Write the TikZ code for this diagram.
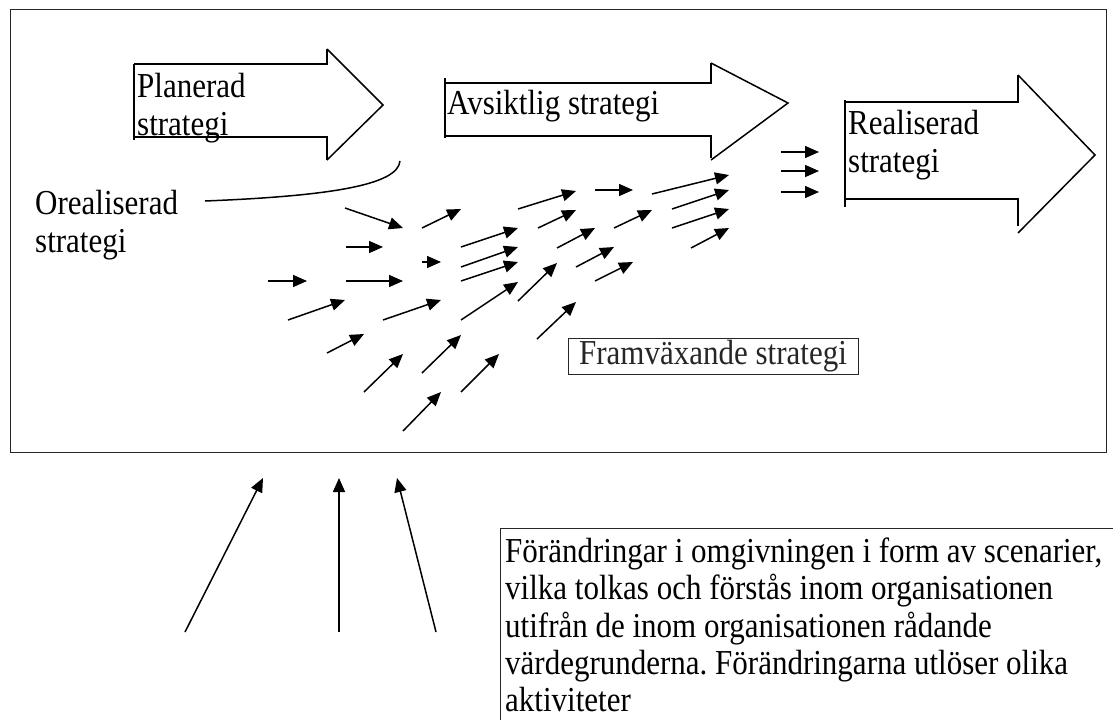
\documentclass[tikz,border=0pt]{standalone}
\usepackage{fontspec}
\setmainfont{Liberation Serif}
\usetikzlibrary{arrows.meta}
\newcommand\stretchtxt[1]{\scalebox{1}[1.13]{#1}}
\frenchspacing
\begin{document}
\begin{tikzpicture}[x=1pt,y=-1pt,
  txt/.style={font=\fontsize{31}{38.75}\selectfont, inner sep=0pt, anchor=base west},
  body/.style={line width=2.6pt},
  head/.style={line width=1.5pt},
  sarr/.style={line width=1.5pt,-{Triangle[length=14pt,width=12pt]}},
  barr/.style={line width=1.5pt,-{Triangle[length=14pt,width=12pt]}},
  frame/.style={line width=1pt, black!85}
]
\useasboundingbox (0,0) rectangle (1113,720);
% outer frame
\draw[frame] (10,9) rectangle (1106,452);

% Planerad strategi arrow
\draw[body] (134,64) -- (134,140);
\draw[body] (134,64) -- (327,64) -- (327,49);
\draw[body] (134,137) -- (327,137) -- (327,160);
\draw[head] (327,49) -- (383,105) -- (327,160);
\node[txt] (pl1) at (137,97) {\stretchtxt{Planerad}};
\node[txt] (pl2) at (137,135) {\stretchtxt{strategi}};

% Avsiktlig strategi arrow
\draw[body] (445,78) -- (445,138);
\draw[body] (445,83) -- (711,83) -- (711,63);
\draw[body] (445,136) -- (711,136) -- (711,158);
\draw[head] (711,63) -- (788,103) -- (711,160);
\node[txt] (av) at (447,114) {\stretchtxt{Avsiktlig strategi}};

% Realiserad strategi arrow
\draw[body] (845,100) -- (845,207);
\draw[body] (845,102) -- (1018,102) -- (1018,75);
\draw[body] (845,199) -- (1018,199) -- (1018,226);
\draw[head] (1018,75) -- (1095,155) -- (1018,233);
\node[txt] (re1) at (848,134) {\stretchtxt{Realiserad}};
\node[txt] (re2) at (848,172) {\stretchtxt{strategi}};

% Orealiserad strategi
\node[txt] (or1) at (35,214) {\stretchtxt{Orealiserad}};
\node[txt] (or2) at (35,252) {\stretchtxt{strategi}};
\coordinate (cu1) at (205,201);
\coordinate (cu2) at (400,161);
\draw[line width=1.5pt] (cu1) .. controls (330,196) and (398,185) .. (cu2);

% small arrows of the emergent strategy
\foreach \i/\ax/\ay/\bx/\by in {
  1/345/208/403/228, 2/422/228/461/209, 3/346/247/383/247, 4/422/262/441/262,
  5/268/281/307/281, 6/346/281/403/281, 7/288/320/345/300, 8/383/320/441/300,
  9/327/353/364/334, 10/364/392/403/354, 11/422/373/461/335, 12/461/392/499/354,
  13/403/431/441/392, 14/461/247/518/228, 15/461/267/518/247, 16/461/281/518/262,
  17/461/320/518/282, 18/518/301/557/263, 19/518/209/576/191, 20/595/190/633/190,
  21/652/194/729/175, 22/538/228/576/210, 23/614/228/652/210, 24/672/209/729/190,
  25/672/228/729/209, 26/691/248/729/228, 27/557/248/595/228, 28/576/267/614/247,
  29/595/281/633/262, 30/537/339/576/302, 31/781/152/819/152, 32/781/171/819/171,
  33/781/192/819/192}{
  \coordinate (s\i) at (\ax,\ay);
  \coordinate (e\i) at (\bx,\by);
  \draw[sarr] (s\i) -- (e\i);
}

\node[draw, frame, font=\fontsize{31}{38.75}\selectfont, minimum width=290pt,
  minimum height=36pt, inner sep=0pt] (fr) at (713,356) {\stretchtxt{Framväxande strategi}};

% bottom arrows
\coordinate (bs1) at (185,632); \coordinate (be1) at (263,478);
\coordinate (bs2) at (339,632); \coordinate (be2) at (339,478);
\coordinate (bs3) at (436,632); \coordinate (be3) at (397,478);
\draw[barr] (bs1) -- (be1);
\draw[barr] (bs2) -- (be2);
\draw[barr] (bs3) -- (be3);

% bottom text box
\draw[frame] (1113,528) -- (500,528) -- (500,720);
\node[txt] (t1) at (505,562) {\stretchtxt{Förändringar i omgivningen i form av scenarier,}};
\node[txt] (t2) at (505,599.5) {\stretchtxt{vilka tolkas och förstås inom organisationen}};
\node[txt] (t3) at (505,637) {\stretchtxt{utifrån de inom organisationen rådande}};
\node[txt] (t4) at (505,674.5) {\stretchtxt{värdegrunderna. Förändringarna utlöser olika}};
\node[txt] (t5) at (505,711) {\stretchtxt{aktiviteter}};
\end{tikzpicture}
\end{document}
